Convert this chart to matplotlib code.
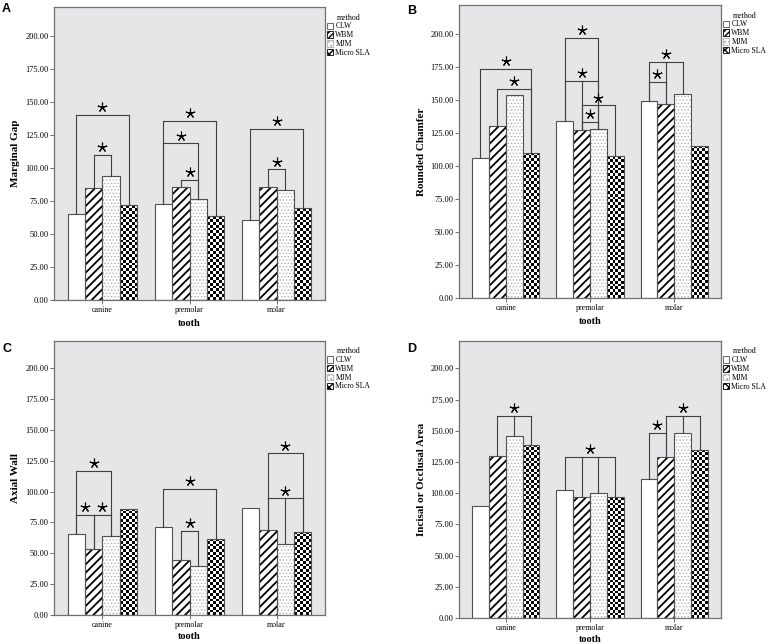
import numpy as np
import matplotlib
matplotlib.use('Agg')
import matplotlib.pyplot as plt
from matplotlib.patches import Patch
from matplotlib.transforms import offset_copy

plt.rcParams['font.family'] = ['Liberation Serif', 'DejaVu Serif']

teeth = ['canine', 'premolar', 'molar']
methods = ['CLW', 'WBM', 'MJM', 'Micro SLA']
yticks = [0, 25, 50, 75, 100, 125, 150, 175, 200]

# values per method (CLW, WBM, MJM, Micro SLA), each over canine/premolar/molar
marginal_gap = [[65.1, 72.7, 60.8],
                [84.8, 85.6, 85.8],
                [93.7, 76.5, 83.3],
                [71.9, 63.3, 69.4]]
rounded_chamfer = [[105.8, 134.3, 149.5],
                   [130.6, 127.0, 147.0],
                   [153.5, 127.8, 154.5],
                   [110.1, 107.3, 115.4]]
axial_wall = [[65.9, 71.6, 87.0],
              [53.8, 44.3, 68.6],
              [64.1, 39.5, 57.8],
              [86.2, 61.6, 67.3]]
occlusal_area = [[89.7, 102.6, 111.7],
                 [129.9, 96.6, 128.8],
                 [145.8, 99.9, 148.0],
                 [138.8, 96.9, 135.0]]

# significance brackets: (tooth index, method indices, bracket height)
marginal_gap_sig = [(0, [0, 3], 140.3), (0, [1, 2], 110.0),
                    (1, [0, 3], 136.0), (1, [0, 2], 118.7), (1, [1, 2], 91.1),
                    (2, [0, 3], 129.6), (2, [1, 2], 99.0)]
rounded_chamfer_sig = [(0, [0, 3], 173.5), (0, [1, 3], 158.3),
                       (1, [0, 2], 197.0), (1, [0, 1, 2], 164.4),
                       (1, [1, 3], 146.0), (1, [1, 2], 133.3),
                       (2, [0, 1, 2], 178.8), (2, [0, 1], 163.6)]
axial_wall_sig = [(0, [0, 2], 116.8), (0, [0, 1], 81.1), (0, [1, 2], 81.1),
                  (1, [0, 3], 102.2), (1, [1, 2], 68.1),
                  (2, [1, 3], 131.0), (2, [1, 2, 3], 94.6)]
occlusal_area_sig = [(0, [1, 2, 3], 162.1),
                     (1, [0, 1, 2, 3], 129.4),
                     (2, [0, 1], 148.5), (2, [1, 2, 3], 161.8)]

W = 0.2
BG = '#e6e6e8'
EDGE = '#505050'
DOT = '#b0b0b0'


def checker_fill(ax, bars):
    for b in bars:
        h = b.get_height()
        ny = max(1, int(round(h / 2.2)))
        arr = np.add.outer(np.arange(ny), np.arange(6)) % 2
        im = ax.imshow(arr, cmap='gray', vmin=0, vmax=1, origin='lower',
                       extent=(b.get_x(), b.get_x() + b.get_width(), 0, h),
                       interpolation='nearest', aspect='auto', zorder=1.5)
        im.set_clip_path(b)


def draw_panel(fig, rect, letter, ylabel, values, sig, ylab_x, xlab_y):
    ax = fig.add_axes(rect)
    ax.set_facecolor(BG)
    x = np.arange(len(teeth))
    offsets = (np.arange(4) - 1.5) * W
    for k, vals in enumerate(values):
        pos = x + offsets[k]
        if k == 0:
            ax.bar(pos, vals, W, color='white', lw=0, zorder=1)
        elif k == 1:
            with plt.rc_context({'hatch.linewidth': 1.3}):
                ax.bar(pos, vals, W, color='white', edgecolor='black',
                       hatch='////', lw=0, zorder=1)
        elif k == 2:
            with plt.rc_context({'hatch.linewidth': 0.6}):
                ax.bar(pos, vals, W, color='white', edgecolor=DOT,
                       hatch='.....', lw=0, zorder=1)
        else:
            bars = ax.bar(pos, vals, W, color='white', lw=0, zorder=1)
            checker_fill(ax, bars)
        ax.bar(pos, vals, W, fill=False, edgecolor=EDGE, lw=0.8, zorder=2)

    # significance brackets
    star_tr = offset_copy(ax.transData, fig=fig, y=5.5, units='points')
    for g, idx, h in sig:
        xs = g + offsets[idx]
        ax.plot([xs[0], xs[-1]], [h, h], color='#404040', lw=0.8, zorder=3)
        for xi, i in zip(xs, idx):
            ax.plot([xi, xi], [values[i][g], h], color='#404040', lw=0.8, zorder=3)
        ax.plot((xs[0] + xs[-1]) / 2, h, marker=(5, 2, 0), ms=7, mew=0.8,
                color='black', transform=star_tr, zorder=3)

    ax.set_xlim(-0.555, 2.555)
    ax.set_ylim(0, 222)
    ax.set_xticks(x)
    ax.set_xticklabels(teeth, fontsize=5.8)
    ax.set_yticks(yticks)
    ax.set_yticklabels([f'{v:.2f}' for v in yticks], fontsize=6)
    ax.tick_params(length=3, width=0.6, color='#555555', pad=1)
    for s in ax.spines.values():
        s.set_color('#707070')
        s.set_linewidth(0.9)
    ax.set_ylabel(ylabel, fontsize=8, fontweight='bold')
    ax.yaxis.set_label_coords(ylab_x, 0.5)
    ax.set_xlabel('tooth', fontsize=7.5, fontweight='bold')
    ax.xaxis.set_label_coords(0.5, xlab_y)

    handles = [Patch(facecolor='white', edgecolor=EDGE, lw=0.6),
               Patch(facecolor='white', edgecolor='black', hatch='//////', lw=0.6),
               Patch(facecolor='white', edgecolor=DOT, hatch='....', lw=0.6),
               Patch(facecolor='white', edgecolor='black', hatch='xxxx', lw=0.6)]
    ax.legend(handles, methods, title='method', loc='upper left',
              bbox_to_anchor=(1.0, 0.985), frameon=False, fontsize=5.5,
              title_fontsize=5.8, handlelength=0.8, handleheight=0.9,
              handletextpad=0.25, labelspacing=0.1, borderpad=0.2,
              borderaxespad=0.1)
    fig.text(rect[0] - letter[1], rect[1] + rect[3] - letter[2], letter[0],
             fontsize=9, fontweight='bold', family='Liberation Sans',
             va='center', ha='left')
    return ax


fig = plt.figure(figsize=(7.7, 6.44), dpi=100)
draw_panel(fig, [54 / 770, 344 / 644, 271 / 770, 293 / 644], ('A', 52 / 770, 2 / 644),
           'Marginal Gap', marginal_gap, marginal_gap_sig, -0.125, -0.065)
draw_panel(fig, [459 / 770, 346 / 644, 262 / 770, 293 / 644], ('B', 52 / 770, 6 / 644),
           'Rounded Chamfer', rounded_chamfer, rounded_chamfer_sig, -0.125, -0.065)
draw_panel(fig, [54 / 770, 29 / 644, 271 / 770, 274 / 644], ('C', 52 / 770, 8 / 644),
           'Axial Wall', axial_wall, axial_wall_sig, -0.125, -0.062)
draw_panel(fig, [459 / 770, 26 / 644, 262 / 770, 277 / 644], ('D', 52 / 770, 8 / 644),
           'Incisal or Occlusal Area', occlusal_area, occlusal_area_sig, -0.125, -0.06)

fig.savefig('out.png', dpi=100)
